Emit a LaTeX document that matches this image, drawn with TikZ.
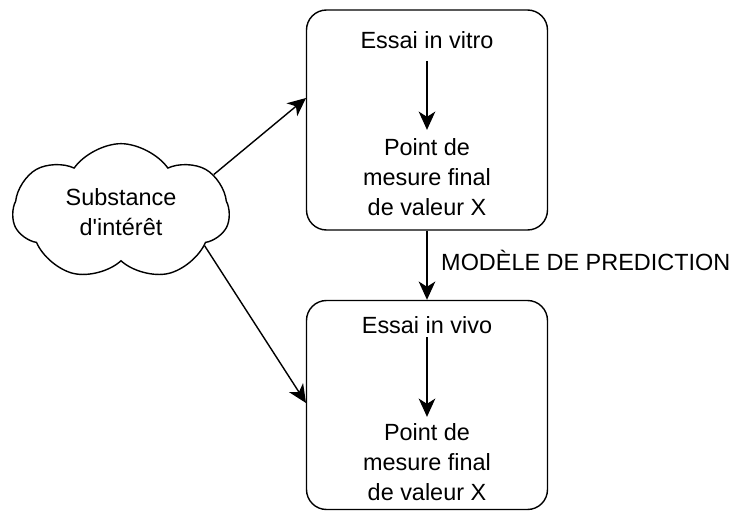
\documentclass[tikz,border=0pt]{standalone}
\usepackage{fontspec}
\setmainfont{Liberation Sans}
\usetikzlibrary{shapes.symbols,arrows.meta}

\begin{document}
\begin{tikzpicture}[x=0.3mm, y=-0.3mm,
  box/.style={draw, line width=1.2pt, rounded corners=6mm, minimum width=72.3mm, inner sep=0pt},
  txt/.style={align=center, font=\fontsize{20}{25.3}\selectfont, inner sep=0pt},
  arr/.style={line width=1.2pt, -{Stealth[length=5.5mm, width=5mm, inset=1.6mm]}}]
\useasboundingbox (0,0) rectangle (736,511);

\node[box, minimum height=66mm] (vitro) at (427,120) {};
\node[box, minimum height=62.7mm] (vivo) at (427,405) {};
\node[cloud, draw, line width=1.2pt, cloud puffs=7, cloud puff arc=110, cloud ignores aspect,
  minimum width=65mm, minimum height=41mm, txt] (subst) at (121,212) {Substance\\d\textquotesingle intérêt};

\node[txt] (vitro title) at (427,40) {Essai in vitro};
\node[txt] (vitro end) at (427,177) {Point de\\mesure final\\de valeur X};
\node[txt] (vivo title) at (427,325) {Essai in vivo};
\node[txt] (vivo end) at (427,462) {Point de\\mesure final\\de valeur X};
\node[txt, anchor=west] (model) at (441,260) {MODÈLE DE PREDICTION};

\coordinate (vitro in) at (306,98);
\coordinate (vivo in) at (306,403);

\draw[arr, shorten <=3.6mm, shorten >=2.6mm] (vitro title) to (vitro end);
\draw[arr, shorten <=1mm, shorten >=2mm] (vivo title) to (vivo end);
\draw[arr] (vitro) to (vivo);
\draw[arr] (subst.22) to (vitro in);
\draw[arr] (subst.-22) to (vivo in);

\end{tikzpicture}
\end{document}
